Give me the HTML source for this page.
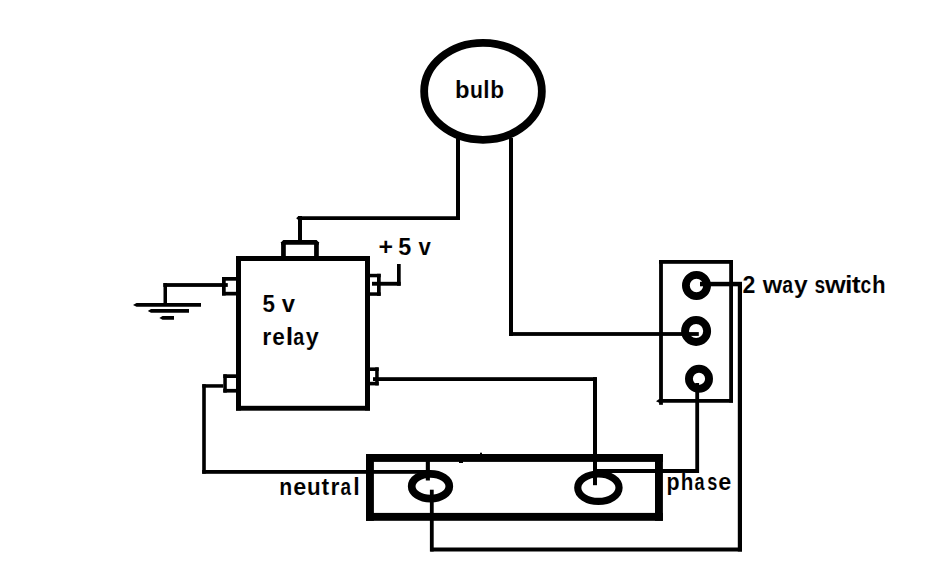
<!DOCTYPE html>
<html><head><meta charset="utf-8">
<style>
html,body{margin:0;padding:0;background:#fff;}
svg{display:block;}
text{font-family:"Liberation Sans",sans-serif;font-weight:bold;fill:#000;font-size:24.3px;stroke:#fff;stroke-width:0.1px;paint-order:normal;}
</style></head>
<body>
<svg width="938" height="581" viewBox="0 0 938 581">
<rect x="0" y="0" width="938" height="581" fill="#fff"/>
<g fill="#000">
<!-- bulb wires -->
<rect x="456" y="138" width="4" height="82"/>
<polygon points="296.2,218.3 298.2,216.2 460,216.2 460,219.9 298.2,219.9"/>
<rect x="298" y="216" width="4" height="26"/>
<rect x="509" y="138" width="4" height="198"/>
<rect x="509" y="332.1" width="189.8" height="3.8"/>
<!-- relay top connector -->
<polygon points="281.1,242.2 283.3,240.1 316.6,240.1 318.8,242.2 318.8,244.8 281.1,244.8"/>
<rect x="281.1" y="242" width="4.7" height="15"/>
<rect x="314.1" y="242" width="4.7" height="15"/>
<!-- relay box -->
<rect x="236" y="256" width="134" height="5"/>
<rect x="236" y="405.8" width="134" height="4.9"/>
<rect x="236" y="256" width="5" height="154.5"/>
<rect x="365" y="256" width="5" height="154.5"/>
<!-- left-top connector -->
<rect x="222" y="277" width="14" height="3.7"/>
<rect x="222" y="291.8" width="14" height="3.7"/>
<rect x="222" y="277" width="3.7" height="18.5"/>
<!-- ground -->
<rect x="163.3" y="283.1" width="64.5" height="3.8"/>
<rect x="163.5" y="283" width="3.5" height="21"/>
<polygon points="133,305 136.5,303.1 201,303.1 201,306.8 136.5,306.8"/>
<polygon points="147.8,311 151,309 189,309 189,312.8 151,312.8"/>
<polygon points="159.4,318 162.5,316 174,316 174,319.7 162.5,319.7"/>
<!-- right-top connector -->
<rect x="370" y="273.8" width="10.7" height="3.5"/>
<rect x="370" y="292.3" width="10.7" height="3.5"/>
<rect x="377" y="273.8" width="3.7" height="22"/>
<rect x="372" y="281.8" width="28.7" height="3.9"/>
<rect x="397" y="264" width="3.7" height="21.7"/>
<!-- left-bottom connector -->
<rect x="223.3" y="374.3" width="12.7" height="3.7"/>
<rect x="223.3" y="388.9" width="12.7" height="3.7"/>
<rect x="223.3" y="374.3" width="3.5" height="18.3"/>
<rect x="202.3" y="384.2" width="21" height="3.5"/>
<rect x="202.2" y="384.2" width="3.6" height="89.5"/>
<rect x="202.2" y="470" width="227.8" height="3.8"/>
<!-- right-bottom connector -->
<rect x="370" y="367.4" width="8.7" height="3.6"/>
<rect x="370" y="381.8" width="8.7" height="3.6"/>
<rect x="375.2" y="367.4" width="3.5" height="18"/>
<rect x="373" y="377.2" width="223.8" height="3.8"/>
<rect x="593" y="377.2" width="4" height="108"/>
<!-- big rect -->
<rect x="366" y="454" width="296.9" height="7.9"/>
<rect x="366" y="512.9" width="296.9" height="7.9"/>
<rect x="366" y="454" width="7.9" height="66.8"/>
<rect x="655" y="454" width="7.9" height="66.8"/>
<rect x="459" y="461" width="4" height="2"/>
<rect x="480" y="452.7" width="2" height="2"/>
<!-- neutral wires -->
<rect x="425.8" y="458" width="4.1" height="22.5"/>
<rect x="429.9" y="489.7" width="3.8" height="61.8"/>
<rect x="430.3" y="547.5" width="311.7" height="4"/>
<!-- phase wire -->
<rect x="593" y="469" width="106" height="4"/>
<rect x="695.3" y="383" width="3.8" height="90"/>
<!-- switch box -->
<rect x="659" y="260" width="74" height="3.8"/>
<polygon points="656,401.2 659.2,398.9 733,398.9 733,402.7 659.2,402.7"/>
<rect x="659.1" y="260" width="3.8" height="144.8"/>
<rect x="729.2" y="260" width="3.8" height="142.6"/>
<rect x="700" y="281.8" width="42" height="4.5"/>
<rect x="737.8" y="282" width="4.2" height="269.5"/>
</g>
<g fill="none" stroke="#000">
<ellipse cx="483" cy="91.3" rx="58.85" ry="48.5" stroke-width="7.8"/>
<ellipse cx="430.5" cy="486.3" rx="18.8" ry="12.4" stroke-width="7.7"/>
<ellipse cx="598.4" cy="487.7" rx="20.65" ry="13.7" stroke-width="7.2"/>
<circle cx="696.5" cy="285.5" r="10.6" stroke-width="7.8"/>
<circle cx="696.1" cy="331" r="11.05" stroke-width="7.9"/>
<circle cx="699" cy="378.8" r="10.05" stroke-width="7.9"/>
</g>
<!--TEXT-->
<text transform="translate(454.96 98.0) scale(0.978 1)">b</text>
<text transform="translate(469.88 98.0) scale(0.870 1)">u</text>
<text transform="translate(483.22 98.0) scale(0.928 1)">l</text>
<text transform="translate(490.23 98.0) scale(0.929 1)">b</text>
<text transform="translate(378.49 254.7) scale(1.025 1)">+</text>
<text transform="translate(398.34 254.7) scale(0.964 1)">5</text>
<text transform="translate(418.39 254.7) scale(0.914 1)">v</text>
<text transform="translate(262.57 312.2) scale(0.923 1)">5</text>
<text transform="translate(281.68 312.2) scale(0.982 1)">v</text>
<text transform="translate(262.29 345.1) scale(0.956 1)">r</text>
<text transform="translate(272.30 345.1) scale(0.930 1)">e</text>
<text transform="translate(285.82 345.1) scale(1.107 1)">l</text>
<text transform="translate(293.31 345.1) scale(0.811 1)">a</text>
<text transform="translate(305.72 345.1) scale(0.963 1)">y</text>
<text transform="translate(742.59 292.8) scale(0.952 1)">2</text>
<text transform="translate(762.76 292.8) scale(1.031 1)">w</text>
<text transform="translate(782.31 292.8) scale(0.804 1)">a</text>
<text transform="translate(794.01 292.8) scale(1.016 1)">y</text>
<text transform="translate(814.43 292.8) scale(0.789 1)">s</text>
<text transform="translate(824.97 292.8) scale(1.099 1)">w</text>
<text transform="translate(845.02 292.8) scale(1.107 1)">i</text>
<text transform="translate(851.76 292.8) scale(1.111 1)">t</text>
<text transform="translate(860.43 292.8) scale(0.794 1)">c</text>
<text transform="translate(871.94 292.8) scale(0.917 1)">h</text>
<text transform="translate(279.32 494.7) scale(0.874 1)">n</text>
<text transform="translate(293.16 494.7) scale(0.964 1)">e</text>
<text transform="translate(307.00 494.7) scale(0.921 1)">u</text>
<text transform="translate(321.61 494.7) scale(0.950 1)">t</text>
<text transform="translate(330.41 494.7) scale(0.943 1)">r</text>
<text transform="translate(340.43 494.7) scale(0.781 1)">a</text>
<text transform="translate(353.37 494.7) scale(0.958 1)">l</text>
<text transform="translate(666.51 489.8) scale(0.880 1)">p</text>
<text transform="translate(680.66 489.8) scale(0.849 1)">h</text>
<text transform="translate(694.46 489.8) scale(0.742 1)">a</text>
<text transform="translate(707.37 489.8) scale(0.746 1)">s</text>
<text transform="translate(718.36 489.8) scale(0.964 1)">e</text>
</svg>
</body></html>
